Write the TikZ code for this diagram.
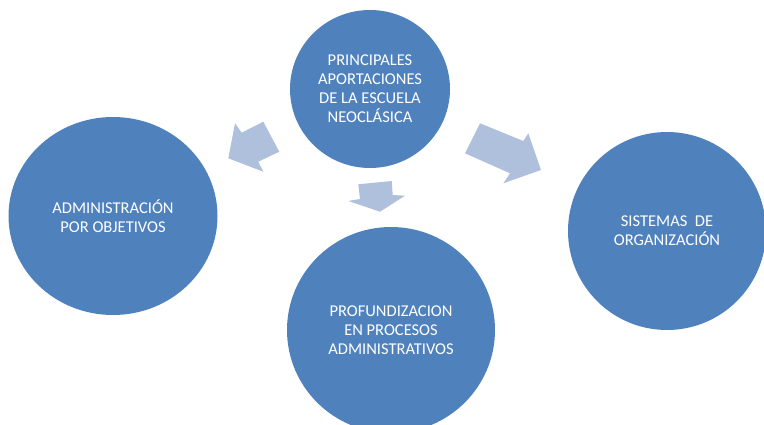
\documentclass[tikz,border=0pt]{standalone}
\usepackage{fontspec}
\setmainfont{Carlito}
\usetikzlibrary{shapes.geometric}
\definecolor{bubble}{HTML}{4F81BD}
\definecolor{pointer}{HTML}{AFC0DC}
\begin{document}
\begin{tikzpicture}[x=1pt,y=-1pt,
  bubble/.style={ellipse, fill=bubble, draw=none, inner sep=0pt,
    text=white, align=center,
    font=\fontsize{16.5}{19}\selectfont},
  blockarrow/.style={fill=pointer, draw=none}]
  \useasboundingbox (0,0) rectangle (764,425);
  \clip (0,0) rectangle (764,425);

  % central topic and the three branches
  \node[bubble, minimum width=160, minimum height=158] (core) at (370,89)
    {PRINCIPALES\\APORTACIONES\\DE LA ESCUELA\\NEOCLÁSICA};
  \node[bubble, minimum width=209, minimum height=198] (apo) at (113,216)
    {ADMINISTRACIÓN\\POR OBJETIVOS};
  \node[bubble, minimum width=208, minimum height=206] (proc) at (391,330)
    {PROFUNDIZACION\\EN PROCESOS\\ADMINISTRATIVOS};
  \node[bubble, minimum width=198, minimum height=198] (sist) at (667,231)
    {SISTEMAS~ DE\\ORGANIZACIÓN};

  % block arrows from the centre towards each branch
  \fill[blockarrow] (228.3,158.3) -- (235,123.3) -- (241.7,132.7)
    -- (263.3,121.7) -- (279.3,151.7) -- (258.3,161.7)
    -- (263.3,171.7) -- cycle;
  \fill[blockarrow] (358.3,184.3) -- (391.7,181) -- (392.7,195)
    -- (405,195.7) -- (380,211.7) -- (348.3,201)
    -- (360,199) -- cycle;
  \fill[blockarrow] (480,123.3) -- (523.3,141) -- (528.3,133.3)
    -- (541,170) -- (503.3,183.3) -- (510,173.3)
    -- (465,153.3) -- cycle;
\end{tikzpicture}
\end{document}
